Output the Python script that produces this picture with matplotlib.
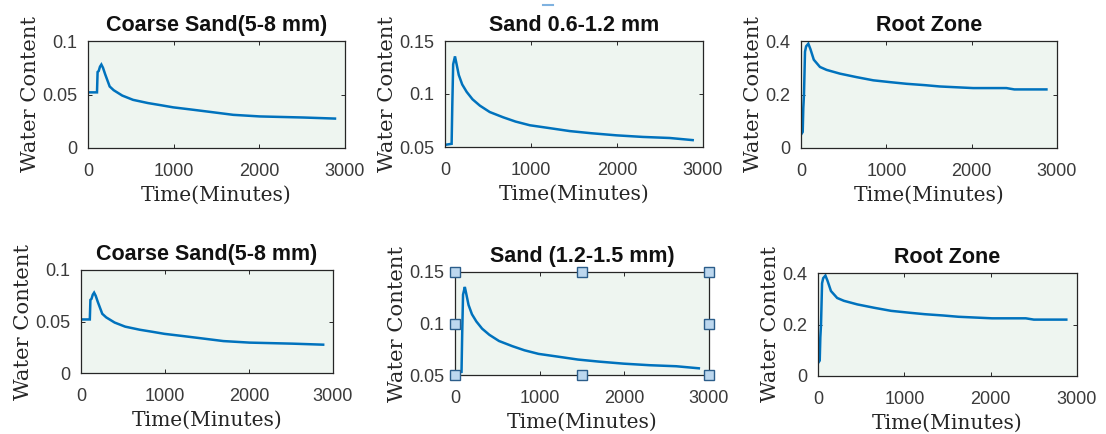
import matplotlib
matplotlib.use("Agg")
import matplotlib.pyplot as plt
from matplotlib.lines import Line2D

# ---------------- data ----------------
coarse_t = [0, 105, 112, 125, 140, 156, 175, 200, 253, 300, 400, 526, 700, 850, 994, 1200, 1400, 1695, 2006, 2513, 2883]
coarse_w = [0.052, 0.052, 0.071, 0.072, 0.076, 0.078, 0.075, 0.069, 0.0575, 0.054, 0.049, 0.045, 0.042, 0.040, 0.038, 0.036, 0.034, 0.031, 0.0295, 0.0285, 0.0275]

sand_t = [0, 77, 85, 95, 116, 130, 160, 200, 252, 320, 406, 520, 677, 820, 987, 1200, 1452, 1700, 1994, 2300, 2613, 2880]
sand_w = [0.052, 0.053, 0.090, 0.128, 0.1355, 0.130, 0.118, 0.109, 0.102, 0.095, 0.089, 0.083, 0.078, 0.074, 0.0705, 0.068, 0.065, 0.063, 0.061, 0.0595, 0.0585, 0.0565]

root_t = [0, 20, 27, 35, 47, 60, 86, 110, 150, 222, 300, 456, 650, 847, 1050, 1237, 1450, 1627, 2017, 2407, 2500, 2876]
root_w = [0.05, 0.06, 0.15, 0.20, 0.36, 0.38, 0.39, 0.37, 0.33, 0.303, 0.292, 0.278, 0.265, 0.253, 0.246, 0.240, 0.235, 0.230, 0.224, 0.224, 0.219, 0.219]

titles_top = ["Coarse Sand(5-8 mm)", "Sand 0.6-1.2 mm", "Root Zone"]
titles_bottom = ["Coarse Sand(5-8 mm)", "Sand (1.2-1.5 mm)", "Root Zone"]
ylims = [(0, 0.1), (0.05, 0.15), (0, 0.4)]
yticks = [[0, 0.05, 0.1], [0.05, 0.1, 0.15], [0, 0.2, 0.4]]
ytick_labels = [["0", "0.05", "0.1"], ["0.05", "0.1", "0.15"], ["0", "0.2", "0.4"]]
xticks = [0, 1000, 2000, 3000]
xtick_labels = ["0", "1000", "2000", "3000"]
series = [(coarse_t, coarse_w), (sand_t, sand_w), (root_t, root_w)]

# ---------------- layout ----------------
W, H = 1106, 434
fig = plt.figure(figsize=(W / 100, H / 100), dpi=100)

def px_rect(left, right, top, bottom):
    return [left / W, (H - bottom) / H, (right - left) / W, (bottom - top) / H]

rects = [
    px_rect(88, 345, 41, 148),
    px_rect(445, 703, 41, 147),
    px_rect(801, 1057, 41, 148),
    px_rect(81, 333, 270, 373),
    px_rect(455, 709, 272, 375),
    px_rect(818, 1077, 273, 376),
]

line_color = "#0072BD"
face = "#eef5f0"
txt = "#262626"

axes = []
for i, r in enumerate(rects):
    k = i % 3
    ax = fig.add_axes(r)
    axes.append(ax)
    ax.set_facecolor(face)
    t, w = series[k]
    ax.plot(t, w, color=line_color, lw=1.8, solid_joinstyle="miter")
    ax.set_xlim(0, 3000)
    ax.set_ylim(*ylims[k])
    ax.set_xticks(xticks)
    ax.set_xticklabels(xtick_labels)
    ax.set_yticks(yticks[k])
    ax.set_yticklabels(ytick_labels[k])
    ax.tick_params(direction="in", top=True, right=True, length=3, width=0.7,
                   labelsize=13, labelcolor="#3a3a3a", color=txt)
    ax.tick_params(axis="x", pad=10.5)
    ax.tick_params(axis="y", pad=8)
    for lab in ax.get_xticklabels() + ax.get_yticklabels():
        lab.set_family("Liberation Sans")
    for s in ax.spines.values():
        s.set_color(txt)
        s.set_linewidth(0.9)
    title = titles_top[k] if i < 3 else titles_bottom[k]
    ax.set_title(title, fontsize=15.5, fontweight="bold", family="Liberation Sans",
                 color="#111111", pad=7)
    ax.set_xlabel("Time(Minutes)", fontsize=14.6, family="DejaVu Serif", color=txt, labelpad=4.5)
    ax.set_ylabel("Water Content", fontsize=15.2, family="DejaVu Serif", color=txt, labelpad=1.5)

# selection handles on the bottom middle panel
ax5 = axes[4]
hx = [0, 0.5, 1, 0, 1, 0, 0.5, 1]
hy = [1, 1, 1, 0.5, 0.5, 0, 0, 0]
ax5.plot(hx, hy, linestyle="none", marker="s", markersize=6.5,
         markerfacecolor="#bcd7ee", markeredgecolor="#2b5d8a", markeredgewidth=1.0,
         transform=ax5.transAxes, clip_on=False, zorder=10)

# small stray blue mark above the second title
fig.add_artist(Line2D([543 / W, 553 / W], [(H - 5) / H, (H - 5) / H],
                      color="#7fb2e0", lw=1.5, transform=fig.transFigure))

fig.savefig("out.png", dpi=100, facecolor="white")
